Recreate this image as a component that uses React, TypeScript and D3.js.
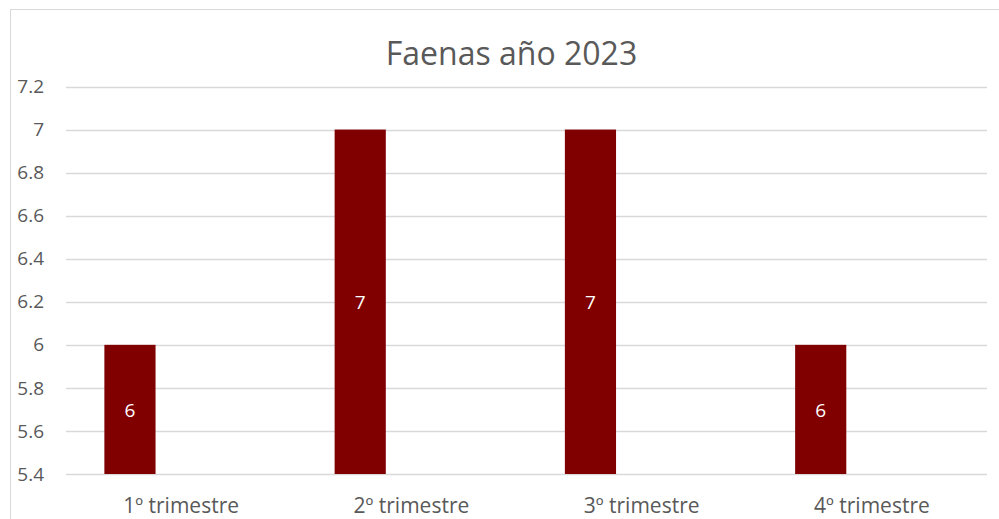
import React, { useEffect, useRef } from "react";
import * as d3 from "d3";

const categories = ["1º trimestre", "2º trimestre", "3º trimestre", "4º trimestre"];
const faenas = [6, 7, 7, 6];
// the original chart reserves room for three series, only the first one has values
const seriesSlots = ["Faenas", "Serie 2", "Serie 3"];
const yTicks = [5.4, 5.6, 5.8, 6, 6.2, 6.4, 6.6, 6.8, 7, 7.2];
const title = "Faenas año 2023";

const FONT = "'Open Sans', 'Noto Sans', sans-serif";
const TEXT = "#595959";
const GRID = "#d9d9d9";
const BAR = "#800000";

function App(): JSX.Element {
  const ref = useRef<SVGSVGElement>(null);

  useEffect(() => {
    if (!ref.current) return;
    const svg = d3.select(ref.current);
    svg.selectAll("*").remove();

    const plot = { left: 66, right: 987, top: 86.5, bottom: 474 };

    // chart frame
    svg
      .append("rect")
      .attr("x", 10.5)
      .attr("y", 9.5)
      .attr("width", 1003)
      .attr("height", 530)
      .attr("fill", "white")
      .attr("stroke", GRID)
      .attr("stroke-width", 1);

    const x = d3
      .scaleBand<string>()
      .domain(categories)
      .range([plot.left, plot.right]);

    const inner = d3
      .scaleBand<string>()
      .domain(seriesSlots)
      .range([0, x.bandwidth()])
      .paddingInner(0)
      .paddingOuter(0.75);

    const y = d3
      .scaleLinear()
      .domain([5.4, 7.2])
      .range([plot.bottom, plot.top]);

    // gridlines
    svg
      .append("g")
      .selectAll("line")
      .data(yTicks)
      .enter()
      .append("line")
      .attr("x1", plot.left)
      .attr("x2", plot.right)
      .attr("y1", (d) => Math.round(y(d)) + 0.5)
      .attr("y2", (d) => Math.round(y(d)) + 0.5)
      .attr("stroke", GRID)
      .attr("stroke-width", 1.3);

    // y labels
    svg
      .append("g")
      .selectAll("text")
      .data(yTicks)
      .enter()
      .append("text")
      .attr("x", 44)
      .attr("y", (d) => y(d))
      .attr("dy", "0.35em")
      .attr("text-anchor", "end")
      .attr("fill", TEXT)
      .style("font-family", FONT)
      .style("font-size", "19px")
      .text((d) => d3.format("~g")(d));

    // bars
    const bx = (c: string) => x(c)! + inner(seriesSlots[0])!;
    svg
      .append("g")
      .selectAll("rect")
      .data(faenas)
      .enter()
      .append("rect")
      .attr("x", (_, i) => bx(categories[i]))
      .attr("y", (d) => y(d))
      .attr("width", inner.bandwidth())
      .attr("height", (d) => y(5.4) - y(d))
      .attr("fill", BAR);

    // value labels
    svg
      .append("g")
      .selectAll("text")
      .data(faenas)
      .enter()
      .append("text")
      .attr("x", (_, i) => bx(categories[i]) + inner.bandwidth() / 2)
      .attr("y", (d) => (y(d) + y(5.4)) / 2 + 1)
      .attr("dy", "0.35em")
      .attr("text-anchor", "middle")
      .attr("fill", "white")
      .style("font-family", FONT)
      .style("font-size", "19px")
      .text((d) => d);

    // category labels
    svg
      .append("g")
      .selectAll("text")
      .data(categories)
      .enter()
      .append("text")
      .attr("x", (d) => x(d)! + x.bandwidth() / 2)
      .attr("y", 506)
      .attr("dy", "0.35em")
      .attr("text-anchor", "middle")
      .attr("fill", TEXT)
      .style("font-family", FONT)
      .style("font-size", "21px")
      .text((d) => d);

    // title
    svg
      .append("text")
      .attr("x", 511.5)
      .attr("y", 54)
      .attr("dy", "0.35em")
      .attr("text-anchor", "middle")
      .attr("fill", TEXT)
      .style("font-family", FONT)
      .style("font-size", "32px")
      .text(title);
  }, []);

  return (
    <svg
      ref={ref}
      width={999}
      height={519}
      style={{ position: "absolute", left: 0, top: 0, background: "white" }}
    />
  );
}

export default App;
